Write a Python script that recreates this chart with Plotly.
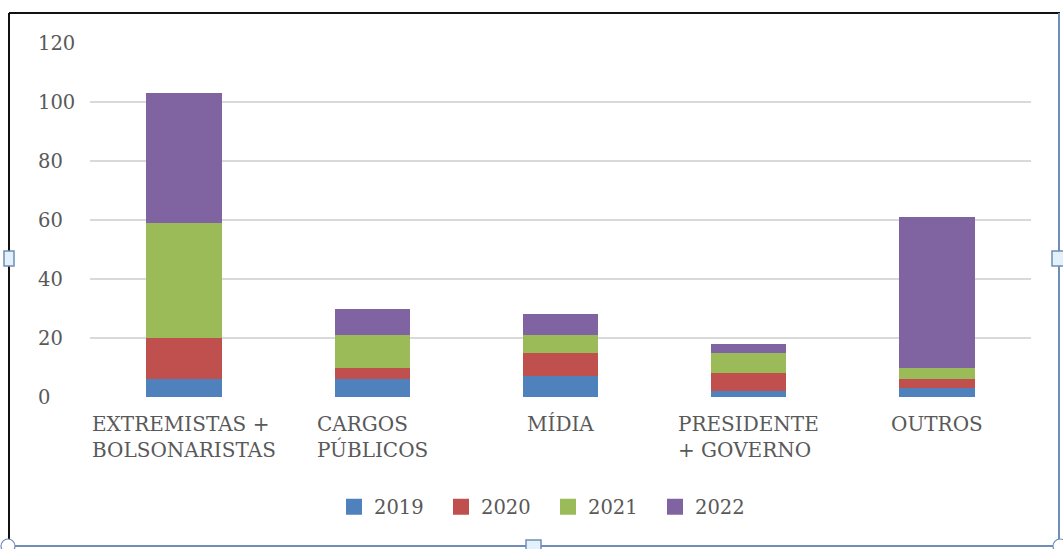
import plotly.graph_objects as go

# Chart data
categories = ["EXTREMISTAS +<br>BOLSONARISTAS", "CARGOS<br>PÚBLICOS", "MÍDIA",
              "PRESIDENTE<br>+ GOVERNO", "OUTROS"]
years = ["2019", "2020", "2021", "2022"]
values_2019 = [6, 6, 7, 2, 3]
values_2020 = [14, 4, 8, 6, 3]
values_2021 = [39, 11, 6, 7, 4]
values_2022 = [44, 9, 7, 3, 51]
y_ticks = [0, 20, 40, 60, 80, 100, 120]

series = [values_2019, values_2020, values_2021, values_2022]
colors = ["#4F81BD", "#C0504D", "#9BBB59", "#8064A2"]

W, H = 1063, 549
L, R, T, B = 90, 32, 43, 152
PW, PH = W - L - R, H - T - B

def px_x(px):
    return (px - L) / PW

def px_y(py):
    return (H - B - py) / PH

FONT = "DejaVu Serif"
TXT = "#595959"

fig = go.Figure()
for name, vals, col in zip(years, series, colors):
    fig.add_trace(go.Bar(x=categories, y=vals, name=name, marker=dict(color=col, line=dict(width=0)),
                         showlegend=False))
    # legend entry with a larger square swatch
    fig.add_trace(go.Scatter(x=[None], y=[None], mode="markers", name=name,
                             marker=dict(symbol="square", size=16, color=col)))

annotations = []
# category labels: block centred under the bar, lines left-aligned
for c in categories:
    annotations.append(dict(x=c, xref="x", y=px_y(410), yref="paper", yanchor="top",
                            xanchor="center", align="left", showarrow=False, text=c,
                            font=dict(family=FONT, size=20, color=TXT)))
# value axis labels, left-aligned
for t in y_ticks:
    annotations.append(dict(x=px_x(36), xref="paper", y=t, yref="y", xanchor="left",
                            yanchor="middle", showarrow=False, text=str(t),
                            font=dict(family=FONT, size=19.5, color=TXT)))

frame_blue = "#6F8DB5"
shapes = [
    dict(type="line", xref="paper", yref="paper", x0=px_x(9), x1=px_x(1060), y0=px_y(13), y1=px_y(13),
         line=dict(color="#111111", width=2)),
    dict(type="line", xref="paper", yref="paper", x0=px_x(9), x1=px_x(9), y0=px_y(13), y1=px_y(546),
         line=dict(color="#111111", width=2)),
    dict(type="line", xref="paper", yref="paper", x0=px_x(1059), x1=px_x(1059), y0=px_y(13), y1=px_y(546),
         line=dict(color=frame_blue, width=2)),
    dict(type="line", xref="paper", yref="paper", x0=px_x(9), x1=px_x(1059), y0=px_y(546), y1=px_y(546),
         line=dict(color=frame_blue, width=2)),
    # sizing handles
    dict(type="rect", xref="paper", yref="paper", x0=px_x(4), x1=px_x(14), y0=px_y(251), y1=px_y(266),
         line=dict(color=frame_blue, width=1.5), fillcolor="#E2F1FA"),
    dict(type="rect", xref="paper", yref="paper", x0=px_x(1052), x1=px_x(1064), y0=px_y(251), y1=px_y(266),
         line=dict(color=frame_blue, width=1.5), fillcolor="#E2F1FA"),
    dict(type="rect", xref="paper", yref="paper", x0=px_x(526), x1=px_x(541), y0=px_y(540), y1=px_y(552),
         line=dict(color=frame_blue, width=1.5), fillcolor="#E2F1FA"),
    dict(type="circle", xref="paper", yref="paper", x0=px_x(1), x1=px_x(15), y0=px_y(539), y1=px_y(553),
         line=dict(color=frame_blue, width=1.2), fillcolor="#FFFFFF"),
    dict(type="circle", xref="paper", yref="paper", x0=px_x(1053), x1=px_x(1067), y0=px_y(539), y1=px_y(553),
         line=dict(color=frame_blue, width=1.2), fillcolor="#FFFFFF"),
]

fig.update_layout(
    width=W, height=H,
    margin=dict(l=L, r=R, t=T, b=B, pad=0),
    paper_bgcolor="white", plot_bgcolor="white",
    barmode="stack", bargap=0.6,
    font=dict(family=FONT, size=19.5, color=TXT),
    xaxis=dict(showticklabels=False, showgrid=False, ticks="", showline=False, zeroline=False),
    yaxis=dict(range=[0, 120], tickvals=y_ticks, showticklabels=False, showgrid=True,
               gridcolor="#D9D9D9", gridwidth=2, zeroline=False, ticks="", showline=False),
    legend=dict(orientation="h", x=px_x(548), xanchor="center", y=px_y(507), yanchor="middle",
                traceorder="normal", font=dict(family=FONT, size=19.5, color=TXT),
                itemsizing="trace", entrywidth=62, itemwidth=30),
    annotations=annotations,
    shapes=shapes,
)

fig.write_html("out.html")
